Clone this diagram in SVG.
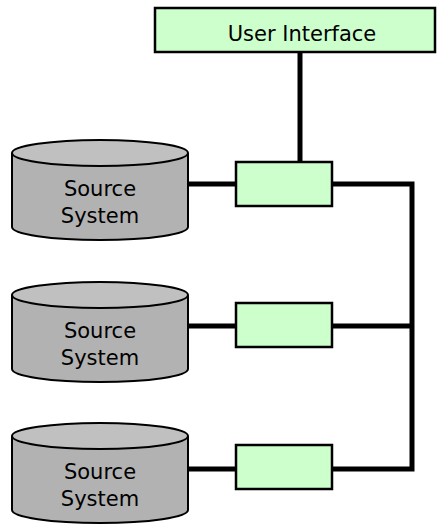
<svg xmlns="http://www.w3.org/2000/svg" width="437" height="529" viewBox="0 0 437 529">
<style>
.box{fill:#ccffcc;stroke:#000;stroke-width:2.5}
.side{fill:#b2b2b2;stroke:#000;stroke-width:2}
.top{fill:#c0c0c0;stroke:#000;stroke-width:2}
.wire{fill:none;stroke:#000;stroke-width:5}
text{font-family:"DejaVu Sans",Verdana,sans-serif;font-size:21px;fill:#000;text-anchor:middle}
</style>
<rect width="437" height="529" fill="#fff"/>
<g id="connectors">
<path class="wire" d="M300,52 V162"/>
<path class="wire" d="M188,184 H236 M332,184 H412 V469 H332 M188,469 H236"/>
<path class="wire" d="M188,326 H236 M332,326 H412"/>
</g>
<g id="ui"><rect class="box" x="155" y="8" width="280" height="44"/><text x="302" y="41">User Interface</text></g>
<g id="src1">
<path class="side" d="M12,153 V227 A88,13 0 0 0 188,227 V153"/>
<ellipse class="top" cx="100" cy="153" rx="88" ry="13"/>
<text x="100" y="196">Source</text><text x="100" y="223">System</text>
</g>
<g id="src2">
<path class="side" d="M12,295 V369 A88,13 0 0 0 188,369 V295"/>
<ellipse class="top" cx="100" cy="295" rx="88" ry="13"/>
<text x="100" y="338">Source</text><text x="100" y="365">System</text>
</g>
<g id="src3">
<path class="side" d="M12,436 V510 A88,13 0 0 0 188,510 V436"/>
<ellipse class="top" cx="100" cy="436" rx="88" ry="13"/>
<text x="100" y="479">Source</text><text x="100" y="506">System</text>
</g>
<g id="box1"><rect class="box" x="236" y="162" width="96" height="44"/></g>
<g id="box2"><rect class="box" x="236" y="303" width="96" height="44"/></g>
<g id="box3"><rect class="box" x="236" y="445" width="96" height="44"/></g>
</svg>
